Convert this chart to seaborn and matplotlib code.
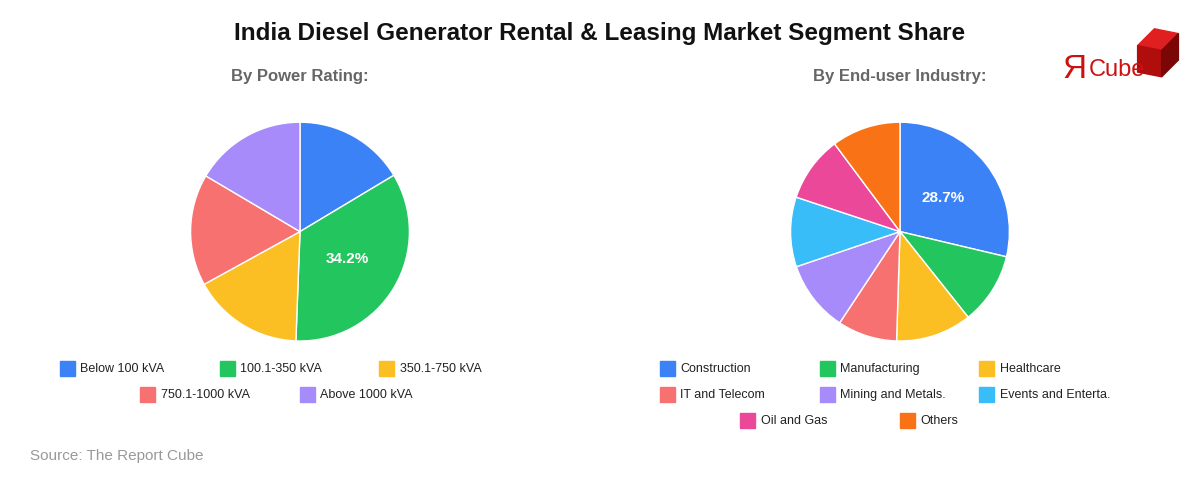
import matplotlib
matplotlib.use("Agg")
import matplotlib.pyplot as plt
import matplotlib.patches as mpatches
import numpy as np
import seaborn as sns

power_labels = ["Below 100 kVA", "100.1-350 kVA", "350.1-750 kVA", "750.1-1000 kVA", "Above 1000 kVA"]
power_values = [16.4, 34.2, 16.4, 16.5, 16.5]
industry_labels = ["Construction", "Manufacturing", "Healthcare", "IT and Telecom",
                   "Mining and Metals.", "Events and Enterta.", "Oil and Gas", "Others"]
industry_values = [28.7, 10.6, 11.2, 8.8, 10.5, 10.3, 9.7, 10.2]
colors = ["#3b82f6", "#22c55e", "#fbbf24", "#f87171", "#a78bfa", "#38bdf8", "#ec4899", "#f97316"]

sns.set_theme(style="white")
plt.rcParams["font.family"] = ["Liberation Sans", "DejaVu Sans"]

fig = plt.figure(figsize=(12, 4.8), dpi=100)
fig.text(0.5, 0.93, "India Diesel Generator Rental & Leasing Market Segment Share",
         ha="center", va="center", fontsize=17.5, fontweight="bold", color="#111")
fig.text(0.025, 0.042, "Source: The Report Cube", fontsize=11, color="#999")

# logo: small cube behind the text
cube = [
    ([(0.948, 0.905), (0.962, 0.94), (0.982, 0.93), (0.968, 0.895)], "#e02020"),
    ([(0.948, 0.905), (0.968, 0.895), (0.968, 0.84), (0.948, 0.85)], "#b00d0d"),
    ([(0.968, 0.895), (0.982, 0.93), (0.982, 0.875), (0.968, 0.84)], "#7a0606"),
]
for pts, c in cube:
    fig.patches.append(mpatches.Polygon(pts, closed=True, transform=fig.transFigure,
                                        color=c, zorder=1))
fig.text(0.885, 0.855, "Я", fontsize=24, color="#cc1111", va="center", zorder=3)
fig.text(0.907, 0.855, "Cube", fontsize=17, color="#cc1111", va="center", zorder=3)


def draw_pie(rect, values, labels, cols, title, big):
    ax = fig.add_axes(rect)
    wedges, _ = ax.pie(values, colors=cols, startangle=90, counterclock=False,
                       radius=1.0, wedgeprops=dict(edgecolor="white", linewidth=1))
    ax.set_aspect("equal")
    ax.set_xlim(-1.02, 1.02)
    ax.set_ylim(-1.02, 1.02)
    fig.text(rect[0] + rect[2] / 2, 0.84, title, ha="center", va="center",
             fontsize=12, fontweight="bold", color="#666")
    w = wedges[big]
    ang = np.deg2rad((w.theta1 + w.theta2) / 2)
    ax.text(0.5 * np.cos(ang), 0.5 * np.sin(ang), f"{values[big]}%",
            ha="center", va="center", color="white", fontsize=11, fontweight="bold")
    return ax


draw_pie([0.135, 0.285, 0.23, 0.465], power_values, power_labels, colors[:5],
         "By Power Rating:", 1)
draw_pie([0.635, 0.285, 0.23, 0.465], industry_values, industry_labels, colors,
         "By End-user Industry:", 0)


def legend_row(y, x0, labels, cols, dx=0.133):
    for i, (lab, c) in enumerate(zip(labels, cols)):
        x = x0 + i * dx
        fig.patches.append(mpatches.Rectangle((x, y - 0.015), 0.0125, 0.031,
                                              transform=fig.transFigure, color=c))
        fig.text(x + 0.017, y, lab, fontsize=9, va="center", color="#222")


legend_row(0.231, 0.05, power_labels[:3], colors[:3])
legend_row(0.177, 0.117, power_labels[3:], colors[3:5])
legend_row(0.231, 0.55, industry_labels[:3], colors[:3])
legend_row(0.177, 0.55, industry_labels[3:6], colors[3:6])
legend_row(0.123, 0.617, industry_labels[6:], colors[6:8])

fig.savefig("out.png")
